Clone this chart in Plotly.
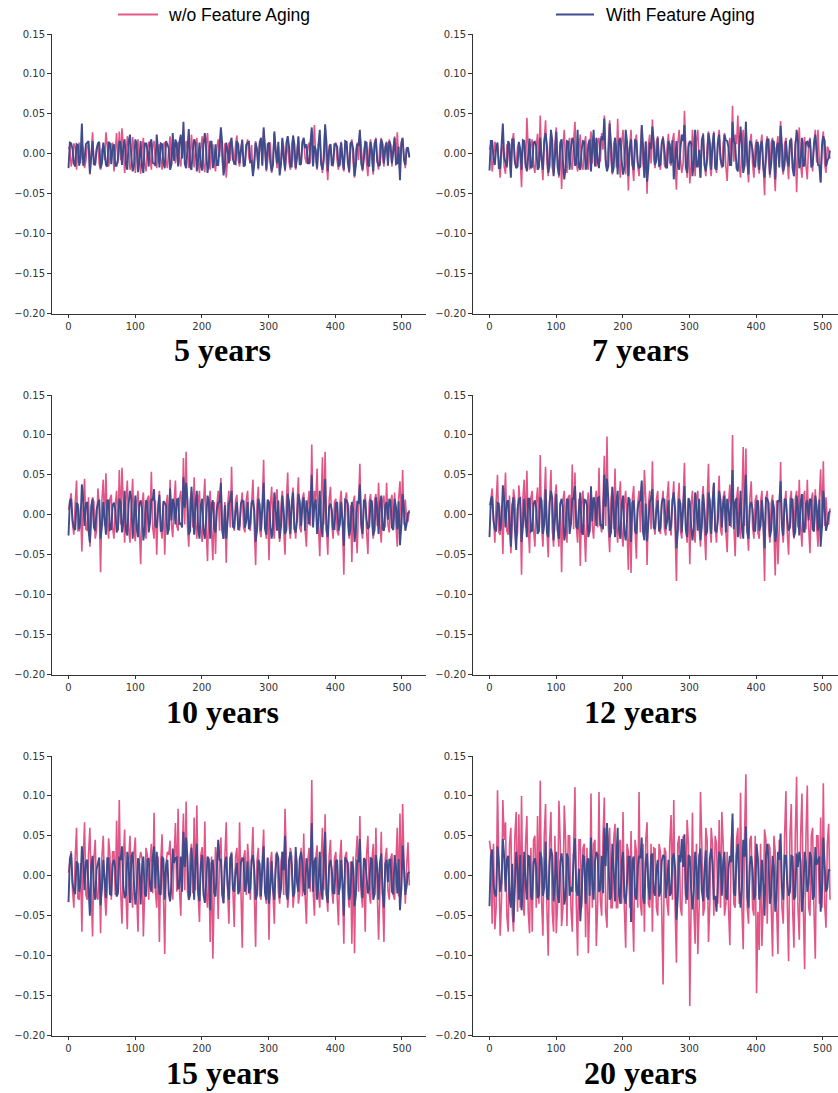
import numpy as np
import plotly.graph_objects as go

panel_titles = ["5 years", "7 years", "10 years", "12 years", "15 years", "20 years"]
series_names = ["w/o Feature Aging", "With Feature Aging"]
y_ticks = [-0.20, -0.15, -0.10, -0.05, 0.00, 0.05, 0.10, 0.15]
x_ticks = [0, 100, 200, 300, 400, 500]

pink_5 = [.006,-.016,.013,-.02,.014,.012,-.018,.01,-.026,.027,-.015,.012,-.02,.011,.027,-.016,
.012,-.022,.026,.028,.032,-.024,.022,-.02,.021,-.024,.018,-.025,.02,-.022,.015,-.02,
.016,-.018,.012,-.02,.014,-.018,.022,.02,-.012,.015,-.016,.03,.016,-.018,.024,-.017,
.02,-.024,.022,-.023,.026,-.02,.012,-.022,.018,.028,-.024,-.03,.014,.016,-.014,.023,
-.016,.018,-.015,.018,-.012,-.026,.016,-.02,.018,.03,-.022,.012,-.024,.026,-.018,-.022,
.018,-.022,.02,-.02,.021,-.02,.02,-.014,.018,-.012,.014,.03,.036,-.02,.022,-.024,
.034,-.033,.012,-.016,.014,-.02,.015,-.022,.016,-.024,.018,-.03,.014,.026,-.022,.015,
-.028,.018,-.026,.02,-.02,.02,-.016,.015,.018,-.016,.022,.027,-.024,.018,-.018,.006]
pink_5_mid = [.01,-.006,.008,.004,-.012,.006,-.009,.012,-.004,-.011,.007,-.013,.005,-.008,.01,-.005,
.013,.003,-.012,-.008,.011,-.006,.009,-.014,.004,.012,-.01,.006,-.013,.008,-.005,.011,
-.011,.007,-.006,.012,-.009,.005,-.013,.01,.004,-.008,.014,-.006,.009,-.012,.003,.011,
-.01,.006,-.014,.012,-.005,.009,-.011,.007,-.004,-.01,.013,-.006,-.009,.005,.012,-.008,
.007,-.012,.01,-.005,.011,-.007,.004,.012,-.013,.006,-.009,.014,-.006,.005,.01,-.012,
.009,-.004,-.011,.012,-.008,.006,-.01,.013,-.005,.008,-.012,.007,-.009,.011,-.006,.004,
-.012,.01,-.005,.011,-.009,.006,-.013,.008,-.004,.012,-.011,.005,-.008,.01,.004,-.012,
.006,-.009,.013,-.007,.011,-.005,.01,-.012,.004,.008,-.01,-.006,.012,-.004,.007,-.005]
blue_5 = [-.018,.013,-.012,.012,-.015,.038,-.008,.014,-.025,.016,-.012,.013,-.018,.014,-.014,.015,
-.013,.012,-.015,.016,-.014,.018,-.02,.024,-.022,.018,-.023,.016,-.024,.013,-.016,.018,
-.012,.024,-.017,.012,-.018,.01,-.02,.026,.018,-.016,.024,.04,-.018,.031,-.02,.018,
-.022,.014,-.021,.026,-.024,.015,-.018,.012,-.014,.033,-.027,.014,-.012,.02,-.012,.016,
-.012,.017,-.014,.014,-.01,-.028,.014,-.018,.02,.033,-.02,.014,-.022,.028,-.012,-.027,
.02,-.02,.022,-.016,.023,-.018,.022,-.012,.02,.012,-.012,.033,.01,-.018,.03,-.02,
.037,-.022,.012,-.012,.012,-.016,.014,-.02,.015,-.022,.015,-.028,.012,.03,-.02,.015,
-.014,.015,-.022,.018,-.015,.018,-.012,.014,.016,-.012,.02,-.012,-.033,.02,-.014,.008]
blue_5_mid = [.014,.006,-.016,.011,-.004,-.015,.012,.016,-.009,-.014,.005,.015,-.012,.003,-.016,.013,
.008,-.015,-.006,.014,.01,-.013,.015,-.004,-.014,.012,-.008,-.016,.013,.005,.014,-.011,
-.015,.004,.013,-.012,.016,.007,-.014,-.009,.012,.015,-.006,-.013,.011,-.016,.004,.014,
-.008,-.015,.013,.006,-.012,.015,-.01,-.014,.009,.013,-.015,.005,.014,-.007,-.013,.012,
.004,-.016,.011,.015,-.009,-.013,.006,.014,-.015,.008,.012,-.011,-.014,.004,.015,-.012,
-.006,.013,.009,-.016,.012,-.005,-.014,.015,.007,-.012,.014,-.016,.005,.011,-.013,-.008,
.014,.004,-.015,.012,.009,-.014,-.005,.016,-.011,.013,.006,-.015,.01,-.012,-.007,.014,
-.016,.005,.013,-.01,-.014,.012,.007,-.015,.011,.004,-.013,.009,.014,-.008,.006,-.004]

pink_7 = [.005,-.022,.015,.01,-.03,.01,-.025,.012,-.028,.026,-.016,.014,-.042,.017,.045,-.02,
.018,-.024,.025,.048,-.033,.042,-.028,.024,-.026,.033,-.03,-.044,.03,-.024,.02,-.02,
.04,-.022,.024,-.02,.022,-.02,.028,.02,-.016,.02,.026,.048,-.02,.042,-.026,.02,
.044,-.03,.03,-.026,-.046,.03,-.034,.024,-.028,.034,-.03,-.05,.024,.043,-.018,.022,
-.02,.022,-.018,.025,-.015,.026,-.045,.03,-.024,.054,-.03,-.037,.03,-.028,.03,-.03,
.026,-.028,.028,-.028,.028,-.024,.03,-.018,.026,-.034,.02,.06,.024,.048,-.03,.03,
.04,-.036,.025,-.03,.018,-.025,.024,-.052,.022,-.03,.02,-.047,.022,.041,-.026,.02,
-.032,.02,-.028,-.048,.033,-.03,.021,-.032,.02,-.022,.03,.03,-.036,.028,-.024,.005]
pink_7_mid = [.012,-.008,.009,-.014,.006,-.016,.011,-.01,.015,-.012,.008,-.006,.014,-.018,.007,.012,
-.015,.009,-.012,-.008,.016,-.011,.007,-.017,.013,-.006,.011,.009,-.016,.012,-.013,.015,
-.01,.007,-.014,.012,-.016,.009,-.012,-.006,.017,-.01,.005,-.014,.015,-.008,.012,-.017,
-.012,.014,-.008,.016,.009,-.013,.012,-.015,.007,-.012,.016,.011,-.012,-.007,.015,-.01,
.013,-.014,.008,-.011,.016,-.013,.012,-.007,-.012,.009,.014,-.015,.006,.016,-.012,.011,
-.014,.009,-.013,.012,-.01,.015,-.008,.013,-.016,.007,-.012,-.01,.012,-.014,.008,-.016,
-.01,.013,-.012,.009,-.014,.011,-.016,.012,-.009,.014,-.013,.008,-.011,-.015,.012,-.009,
.013,-.012,.016,.009,-.013,.01,-.015,.012,-.007,.014,-.011,-.01,.013,-.012,.009,-.006]
blue_7 = [-.021,.016,-.014,.014,-.018,.038,-.01,.016,-.03,.018,-.018,.015,-.02,.016,-.022,.019,
-.016,.015,-.02,.02,-.02,.026,-.024,.03,-.028,.028,-.027,.018,-.032,.016,-.02,.02,
-.015,.03,-.02,.016,-.02,.012,-.022,.03,.02,-.018,.022,.044,-.022,.038,-.024,.02,
-.026,.02,-.026,.03,-.028,.018,-.02,.016,-.018,.036,-.03,-.035,.014,.034,-.014,.02,
-.014,.02,-.016,.016,-.012,-.032,.016,-.02,.024,.036,-.024,.016,-.028,.03,-.016,-.03,
.024,-.022,.026,-.02,.026,-.02,.024,-.014,.024,.016,-.014,.04,.012,-.022,.034,-.024,
.04,-.026,.014,-.014,.014,-.02,.016,-.03,.018,-.026,.016,-.032,.014,.035,-.022,.016,
-.016,.018,-.028,.03,-.018,.02,-.014,.015,.018,-.014,.024,-.014,-.036,.022,-.016,-.005]
blue_7_mid = [.016,-.006,.008,-.018,.014,-.005,-.017,.012,.018,-.01,-.016,.006,.017,-.013,.004,-.018,
.014,.009,-.017,-.007,.016,.011,-.015,.017,-.005,-.016,.014,-.009,-.018,.015,.006,.016,
-.012,-.017,.005,.015,-.014,.018,.008,-.016,-.01,.014,.017,-.007,-.015,.012,-.018,.005,
.016,-.009,-.017,.015,.007,-.014,.017,-.011,-.016,.01,.015,-.017,.006,.016,-.008,-.015,
.014,.005,-.018,.012,.017,-.01,-.015,.007,.016,-.017,.009,.014,-.012,-.016,.005,.017,
-.014,-.007,.015,.01,-.018,.014,-.006,-.016,.017,.008,-.014,.016,-.018,.006,.012,-.015,
-.009,.016,.005,-.017,.014,.01,-.016,-.006,.018,-.012,.015,.007,-.017,.011,-.014,-.008,
.016,-.018,.006,.015,-.011,-.016,.014,.008,-.017,.012,.005,-.015,.01,.016,-.009,.004]

pink_10 = [.006,.027,-.025,.043,-.02,-.046,.045,-.02,-.04,.022,-.03,.033,-.072,.044,.052,-.03,
.025,-.03,.03,.056,.059,-.035,.043,-.035,.045,-.033,.03,-.062,.028,-.03,.024,.054,
-.03,-.05,.03,-.03,-.05,.025,.044,-.028,.043,-.02,.03,.071,.079,-.04,.03,.047,
-.03,.03,-.034,.045,-.058,.03,-.057,-.049,.03,.046,-.03,-.06,.03,.06,-.02,.025,
-.02,.028,-.022,.03,-.02,.044,-.063,.035,-.028,.069,-.03,-.057,.035,-.03,.032,-.034,
.03,-.05,.053,-.03,.034,-.03,.047,-.022,.028,-.04,.03,.088,.03,.058,-.052,.072,
.079,-.05,.035,-.03,.02,-.026,.03,-.075,.028,-.03,-.059,.024,-.048,.064,-.03,.026,
-.049,.026,-.03,.026,.04,-.035,.024,.04,-.022,.025,.028,-.04,.042,.056,.019,-.008]
pink_10_mid = [.016,-.012,.014,-.02,.01,.012,-.018,.022,-.012,.016,-.02,.009,.018,-.014,-.01,.02,
-.016,.013,-.02,-.012,.014,.018,-.016,.012,-.02,.016,-.018,.012,-.014,.02,-.01,-.016,
.018,.012,-.016,.014,.01,-.02,-.012,.016,-.014,.02,-.01,-.012,-.014,.018,-.016,-.012,
.016,-.02,.014,-.016,.012,-.018,.016,.012,-.02,-.014,.016,.01,-.016,-.012,.018,-.014,
.012,-.016,.018,-.01,.014,-.016,.012,-.018,.014,-.012,.016,.01,-.016,.02,-.014,.012,
-.018,.016,-.012,.018,-.014,.012,-.016,.02,-.018,.012,-.014,-.012,.016,-.014,.012,-.012,
-.016,.018,-.012,.016,-.02,.014,-.012,.018,-.014,.012,.016,-.018,.014,-.016,.012,-.02,
.016,-.012,.018,-.014,-.012,.018,-.016,-.012,.016,-.018,-.012,.02,-.014,-.012,-.008,.006]
blue_10 = [-.026,.02,-.016,.015,-.018,.038,-.014,.016,-.035,.02,-.02,.014,-.03,.016,-.025,.018,
-.018,.015,-.022,.02,-.022,.03,-.026,.03,-.03,.024,-.028,.018,-.032,.018,-.022,.02,
.032,-.016,.025,-.02,.015,-.025,.033,.02,-.012,.02,-.01,.047,.04,-.025,.035,-.025,
.03,-.03,.02,-.03,.024,-.03,.018,-.022,.015,.04,-.03,-.03,.014,.03,-.016,.016,
-.014,.018,-.016,.016,-.012,.018,-.034,.02,-.02,.04,-.025,.016,-.03,.028,-.02,-.03,
.024,-.024,.026,-.024,.028,-.022,.026,-.014,.022,.018,-.012,.05,.014,-.024,.03,-.028,
.045,-.028,.014,-.018,.014,-.02,.016,-.039,.018,-.026,.016,-.034,.016,.038,-.024,.018,
-.018,.018,-.026,.022,-.024,.024,-.02,.016,.02,-.016,.02,-.018,-.038,.026,-.02,.002]
blue_10_mid = [.017,-.007,-.019,.013,-.006,.018,.014,-.02,.011,-.016,.006,.019,-.014,-.005,.018,-.019,
.012,.007,-.018,.016,-.011,-.02,.014,.019,-.006,-.017,.013,.008,-.019,.016,-.01,.018,
-.014,.006,-.02,.017,.011,-.018,-.007,.014,.019,-.012,-.016,.009,.018,-.02,.006,.015,
-.017,.012,-.019,-.006,.017,.013,-.018,.007,.016,-.02,.012,-.009,.018,-.015,.005,-.019,
.014,.017,-.008,-.018,.016,.006,-.02,.013,.008,-.017,.019,-.012,-.015,.007,.018,-.014,
.005,-.019,.016,.011,-.018,-.007,.017,.014,-.02,.006,.013,-.016,.019,-.008,-.014,.017,
-.019,.01,.006,-.018,.016,-.012,-.007,.019,.014,-.017,.008,-.02,.015,-.011,.018,-.006,
-.015,.017,-.019,.008,.014,-.018,.012,-.006,.016,-.019,.01,.017,-.014,.006,-.011,.004]

pink_12 = [.012,.033,-.035,.05,-.025,-.049,.053,-.025,-.048,.032,-.03,.037,-.075,.044,.055,-.048,
.03,-.04,.034,.075,-.04,.06,-.053,.056,-.04,.038,-.04,-.072,.03,-.035,.025,.063,
.053,-.035,-.064,.03,-.059,.028,.036,-.03,.03,.059,-.022,.074,.098,-.047,.034,.058,
-.035,.042,-.04,.03,-.069,-.073,.036,-.055,.03,.04,.056,-.063,.03,.067,-.025,.03,
-.024,.03,-.026,.042,-.026,.042,-.083,.04,-.03,.065,-.035,-.062,.03,-.035,.03,-.04,
.036,-.057,.064,-.035,.04,-.035,.049,-.026,.03,-.047,.038,.10,-.052,.035,-.03,.085,
.083,-.045,.042,-.03,.025,-.03,.03,-.083,.03,-.035,.025,-.076,-.062,.066,-.035,.03,
-.05,.03,-.03,.03,.044,-.04,.03,.044,-.048,.028,.032,-.04,.057,.067,.022,-.012]
pink_12_mid = [.018,-.014,.016,-.022,.012,.014,-.02,.024,-.014,.018,-.022,.01,.02,-.016,-.012,.022,
-.018,.015,-.022,-.014,.016,-.02,.014,-.018,.022,-.02,.014,.018,-.016,.022,-.012,-.018,
-.014,.02,.014,-.018,.012,-.022,-.014,.018,-.016,-.012,.02,-.014,-.016,.02,-.018,-.014,
.018,-.022,.016,-.018,.014,.02,-.018,.014,-.022,-.016,.02,.012,-.018,-.014,.02,-.016,
.014,-.018,.02,-.012,.016,-.018,.014,-.02,.016,-.014,.018,.012,-.018,.022,-.016,.014,
-.02,.018,-.014,.02,-.016,.014,-.018,.022,-.02,.014,-.016,-.014,.018,-.016,.014,-.014,
-.018,.02,-.014,.018,-.022,.016,-.014,.02,-.016,.014,-.02,.018,-.016,-.018,.014,-.022,
.018,-.014,.02,-.016,-.014,.02,-.018,-.014,.018,-.02,-.014,.022,-.016,-.014,-.01,.008]
blue_12 = [-.028,.023,-.018,.015,-.02,.037,-.016,.018,-.04,.022,-.044,.02,-.034,.02,-.028,.02,
-.02,.018,-.024,.022,-.024,.032,-.028,.03,-.032,.026,-.03,.02,-.032,.02,-.024,.02,
.036,-.018,.028,-.025,.018,-.028,.035,.022,-.014,.022,-.012,.05,.045,-.028,.035,-.028,
.03,-.03,.024,-.032,.022,-.034,.018,-.024,.016,.043,-.032,-.033,.016,.032,-.018,.018,
-.016,.02,-.018,.018,-.014,.028,-.042,.02,-.022,.036,-.028,.016,-.032,.028,-.02,-.032,
.026,-.026,.028,-.024,.04,-.022,.03,-.016,.024,.02,-.014,.056,.016,-.028,.03,-.03,
.05,-.03,.016,-.02,.016,-.02,.018,-.042,.02,-.028,.018,-.034,.018,.042,-.026,.018,
-.02,.02,-.028,.024,-.026,.026,-.022,.018,.02,-.018,.024,-.02,-.04,.03,-.02,.002]
blue_12_mid = [.019,-.008,-.021,.014,-.007,.02,.016,-.022,.012,-.018,.007,.021,-.015,-.006,.02,-.021,
.014,.008,-.02,.018,-.012,-.022,.015,.021,-.007,-.019,.014,.009,-.021,.018,-.011,.02,
-.015,.007,-.022,.019,.012,-.02,-.008,.015,.021,-.014,-.018,.01,.02,-.022,.007,.016,
-.019,.014,-.021,-.007,.019,.015,-.02,.008,.018,-.022,.014,-.01,.02,-.016,.006,-.021,
.015,.019,-.009,-.02,.018,.007,-.022,.014,.009,-.019,.021,-.014,-.016,.008,.02,-.015,
.006,-.021,.018,.012,-.02,-.008,.019,.015,-.022,.007,.014,-.018,.021,-.009,-.015,.019,
-.021,.011,.007,-.02,.018,-.014,-.008,.021,.015,-.019,.009,-.022,.016,-.012,.02,-.007,
-.016,.019,-.021,.009,.015,-.02,.014,-.007,.018,-.021,.011,.019,-.015,.007,-.012,.005]

pink_15 = [.004,.031,-.04,.06,-.03,-.07,.067,-.03,.06,-.076,.045,-.03,-.072,.05,-.05,.047,
-.03,.03,.069,.095,-.06,.058,-.067,.05,-.04,.048,-.07,.03,-.076,.035,-.03,.04,
.079,-.04,-.083,.052,-.098,.03,.044,-.03,.066,.084,-.05,.078,.093,-.03,.04,.073,
.088,-.058,.036,.068,-.04,-.083,-.104,.036,-.054,.048,-.035,.067,-.06,.03,-.064,.035,
.067,-.09,.032,.04,-.03,.061,-.089,.035,-.03,.058,-.035,-.08,.03,-.06,.03,-.035,
.03,.084,-.04,.035,-.04,.03,-.035,.035,.053,-.06,.035,.12,-.05,.038,-.04,.06,
.077,-.045,.045,-.035,.03,-.062,.045,-.085,.03,-.04,-.085,-.097,.05,.075,-.04,-.07,
.05,-.035,.04,.06,-.08,.055,-.083,.035,-.03,.028,-.03,.06,.078,.09,-.035,.042]
pink_15_mid = [.02,-.018,.022,-.028,.016,.02,-.024,.028,-.018,.022,-.026,.014,.024,-.02,-.016,.026,
.03,-.024,-.02,-.018,.02,-.024,.018,-.022,.028,-.024,.018,.022,-.02,.026,.016,-.022,
-.018,.024,.018,-.022,.016,.026,-.018,.022,-.02,-.016,.024,-.018,-.02,.026,-.022,-.018,
-.022,.026,-.02,-.022,.018,.024,-.022,.018,.026,-.02,.024,-.016,.022,-.018,.024,-.02,
-.018,.022,-.024,.016,.02,-.022,.018,-.024,.02,-.018,.022,.016,-.022,.026,-.02,.018,
-.024,.022,-.018,.024,-.02,.018,-.022,-.026,-.024,.018,-.02,-.018,.022,-.02,.018,-.018,
-.022,.024,-.018,.022,-.026,.02,-.018,.024,-.02,.018,.024,.022,-.02,-.022,.018,.026,
-.022,.018,-.024,-.02,-.018,-.024,.022,-.018,.022,-.024,.018,-.026,-.02,.018,.012,-.012]
blue_15 = [-.033,.028,-.018,.018,-.02,.037,-.018,.02,-.05,.025,-.03,.016,-.037,.02,-.028,.022,
-.024,.02,-.026,.024,.037,-.028,.03,-.034,.03,-.036,.022,-.036,.024,-.026,.022,-.02,
.037,.03,-.022,.024,-.03,.02,-.032,.034,.022,-.016,.024,.055,.048,-.03,.035,-.03,
.04,-.032,.026,-.034,.024,-.043,.02,-.026,.045,.02,-.034,.024,-.03,.028,-.02,.016,
-.018,.022,-.02,.018,-.016,.026,-.03,.02,-.026,.037,-.03,-.035,.018,-.03,.028,-.028,
.03,.05,-.03,.03,-.026,.036,-.02,.03,-.018,.022,-.016,.066,.018,-.03,.03,-.03,
.055,-.034,.02,-.022,.018,-.024,.02,-.05,.02,-.03,.018,-.038,.02,.046,-.028,.02,
-.022,.022,-.03,.026,-.03,.028,-.04,.02,.02,-.02,.026,-.022,-.043,.038,-.024,.003]
blue_15_mid = [.021,-.009,-.023,.015,-.008,.022,.017,-.024,.013,-.02,.008,.023,-.016,-.007,.022,-.023,
.015,.009,-.022,.02,-.013,-.024,.016,.023,-.008,-.021,.015,.01,-.023,.02,-.012,.022,
-.016,.008,-.024,.021,.013,-.022,-.009,.016,.023,-.015,-.02,.011,.022,-.024,.008,.017,
-.021,.015,-.023,-.008,.021,.016,-.022,.009,.02,-.024,.015,-.011,.022,-.017,.007,-.023,
.016,.021,-.01,-.022,.02,.008,-.024,.015,.01,-.021,.023,-.015,-.017,.009,.022,-.016,
.007,-.023,.02,.013,-.022,-.009,.021,.016,-.024,.008,.015,-.02,.023,-.01,-.016,.021,
-.023,.012,.008,-.022,.02,-.015,-.009,.023,.016,-.021,.01,-.024,.017,-.013,.022,-.008,
-.017,.021,-.023,.01,.016,-.022,.015,-.008,.02,-.023,.012,.021,-.016,.008,-.013,.005]

pink_20 = [.044,-.06,-.067,.107,-.075,.095,.067,-.07,.06,-.07,.08,.077,.10,-.05,.075,-.072,
-.07,.05,.075,.119,-.075,.09,-.10,.08,-.07,-.072,.094,-.063,.088,-.063,.05,-.07,
.111,-.10,.045,.035,-.077,-.097,.103,.04,-.088,.105,-.05,.098,-.065,.06,-.04,.065,
-.04,.045,.08,-.09,.03,.056,-.095,.03,.105,-.05,-.07,.067,-.04,-.07,.034,-.05,
.03,-.136,.03,-.05,.076,.095,-.109,.05,-.05,.04,.07,-.163,.079,-.085,-.098,.105,
-.05,.06,-.083,.06,-.05,.04,.07,.08,-.05,.03,-.087,.07,-.04,.06,.104,-.092,
.127,-.06,.05,-.05,-.147,-.093,-.088,.058,-.06,.035,-.101,.03,-.098,.035,-.06,.106,
-.107,.09,-.09,.124,-.08,.103,-.117,.113,-.05,.06,-.104,.05,.073,.116,-.065,.065]
pink_20_mid = [.03,.04,-.04,.035,-.03,.045,-.05,.04,-.045,.05,-.045,-.04,-.035,.04,-.045,.035,
.045,-.04,-.035,-.03,.05,-.04,.04,-.045,.05,-.035,.04,-.04,.045,.05,-.04,.035,
-.035,.045,-.04,.04,.035,-.035,-.04,.045,-.035,-.03,.05,-.045,.04,-.04,.045,-.04,
.04,-.035,-.04,.04,-.04,-.035,.045,-.04,-.035,.04,.045,-.035,.04,.035,-.04,.04,
-.045,.035,-.035,.04,-.03,-.04,.04,-.04,.05,-.035,.04,-.035,-.04,.04,-.04,.04,
-.04,.045,-.035,.04,.05,-.035,-.04,.04,-.035,-.04,.04,-.035,.045,-.035,-.04,.05,
-.04,.045,-.04,.05,-.045,.04,-.035,.045,.04,-.04,.05,-.04,.045,-.04,.05,-.035,
.05,-.04,.05,-.04,.05,-.04,.05,-.04,.05,-.045,.05,-.035,-.04,-.035,.04,-.03]
blue_20 = [-.038,.033,-.022,.037,-.02,.046,-.02,.025,-.04,-.058,.03,-.03,-.043,.03,-.03,.024,
-.03,.022,-.028,.03,-.025,.043,-.03,.034,-.032,.03,-.034,.028,-.036,.028,-.025,-.02,
.047,-.025,-.057,.025,-.035,.022,.048,-.03,.03,-.02,.025,.06,.066,-.03,.04,-.032,
.06,-.035,.03,-.035,.024,-.058,.024,-.03,.025,.048,-.035,.028,-.03,.028,-.025,.02,
-.02,.026,-.028,.02,-.022,.028,-.055,.026,.046,.052,-.03,.024,-.042,.03,-.03,.034,
-.032,.032,-.03,.034,-.03,-.045,.03,-.025,.03,-.03,.025,.078,-.025,.04,-.04,.045,
.062,-.04,.025,-.03,.04,-.03,.02,-.05,.04,-.035,.025,-.045,.03,.053,-.03,.025,
-.025,.025,-.03,.028,.03,-.045,.03,-.02,.03,-.03,.036,.02,-.045,.048,-.02,.008]
blue_20_mid = [.024,-.011,-.026,.017,-.009,.025,.02,-.027,.015,-.022,.009,.026,-.018,-.008,.025,-.026,
.017,.01,-.025,.022,-.015,-.027,.018,.026,-.009,-.024,.017,.011,-.026,.022,-.014,.025,
-.018,.009,-.027,.024,.015,-.025,-.01,.018,.026,-.017,-.022,.012,.025,-.027,.009,.02,
-.024,.017,-.026,-.009,.024,.018,-.025,.01,.022,-.027,.017,-.012,.025,-.02,.008,-.026,
.018,.024,-.011,-.025,.022,.009,-.027,.017,.011,-.024,.026,-.017,-.02,.01,.025,-.018,
.008,-.026,.022,.015,-.025,-.01,.024,.018,-.027,.009,.017,-.022,.026,-.011,-.018,.024,
-.026,.014,.009,-.025,.022,-.017,-.01,.026,.018,-.024,.011,-.027,.02,-.015,.025,-.009,
-.02,.024,-.026,.011,.018,-.025,.017,-.009,.022,-.026,.014,.024,-.018,.009,-.015,.006]

pink_lists = [(pink_5, pink_5_mid), (pink_7, pink_7_mid), (pink_10, pink_10_mid),
              (pink_12, pink_12_mid), (pink_15, pink_15_mid), (pink_20, pink_20_mid)]
blue_lists = [(blue_5, blue_5_mid), (blue_7, blue_7_mid), (blue_10, blue_10_mid),
              (blue_12, blue_12_mid), (blue_15, blue_15_mid), (blue_20, blue_20_mid)]


def weave(main, mid):
    out = []
    for a, b in zip(main, mid):
        out += [a, b]
    return out


W, H = 838, 1093
PINK = "rgba(222,66,122,0.9)"
BLUE = "#404B8C"
col_px = [(51.5, 426.0), (472.5, 838.0)]
row_px = [(34.0, 313.5), (395.0, 674.5), (756.0, 1035.5)]
title_y_px = [350, 712, 1073]
title_x_px = [223, 640.5]
x_ranges = [[-25.5, 536.0], [-25.5, 523.0]]

fig = go.Figure()
layout = dict(
    width=W, height=H, margin=dict(l=0, r=0, t=0, b=0, autoexpand=False),
    paper_bgcolor="white", plot_bgcolor="white", showlegend=False,
    annotations=[], shapes=[],
)
for i, title in enumerate(panel_titles):
    r, c = divmod(i, 2)
    suffix = "" if i == 0 else str(i + 1)
    x0, x1 = col_px[c]
    y0, y1 = row_px[r]
    layout["xaxis" + suffix] = dict(
        domain=[x0 / W, x1 / W], range=x_ranges[c], anchor="y" + suffix, automargin=False,
        tickvals=x_ticks, ticks="outside", ticklen=3.5, tickwidth=0.8, tickcolor="#333",
        showgrid=False, zeroline=False, showline=True, linecolor="#333", linewidth=1,
        tickfont=dict(family="DejaVu Sans", size=10, color="#333"),
    )
    layout["yaxis" + suffix] = dict(
        domain=[1 - y1 / H, 1 - y0 / H], range=[-0.20, 0.15], anchor="x" + suffix, automargin=False,
        tickvals=y_ticks, tickformat=".2f", ticks="outside", ticklen=3.5, tickwidth=0.8, tickcolor="#333",
        showgrid=False, zeroline=False, showline=True, linecolor="#333", linewidth=1,
        tickfont=dict(family="DejaVu Sans", size=10, color="#333"),
    )
    for pair, color, width, name in ((pink_lists[i], PINK, 1.6, series_names[0]),
                                     (blue_lists[i], BLUE, 1.9, series_names[1])):
        values = weave(*pair)
        fig.add_trace(go.Scatter(
            x=np.linspace(0, 511, len(values)), y=values, mode="lines", name=name,
            xaxis="x" + suffix, yaxis="y" + suffix, line=dict(color=color, width=width),
        ))
    layout["annotations"].append(dict(
        text="<b>%s</b>" % title, xref="paper", yref="paper", x=title_x_px[c] / W, y=1 - title_y_px[r] / H,
        showarrow=False, xanchor="center", yanchor="middle",
        font=dict(family="Liberation Serif", size=32, color="black"),
    ))

for name, lx0, lx1, tx, color in ((series_names[0], 118, 158, 166, "#E8578A"), (series_names[1], 556, 594, 604, BLUE)):
    layout["shapes"].append(dict(type="line", xref="paper", yref="paper", x0=lx0 / W, x1=lx1 / W,
                                 y0=1 - 14.5 / H, y1=1 - 14.5 / H, line=dict(color=color, width=2)))
    layout["annotations"].append(dict(
        text=name, xref="paper", yref="paper", x=tx / W, y=1 - 15 / H, showarrow=False,
        xanchor="left", yanchor="middle", font=dict(family="Liberation Sans", size=17.5, color="black"),
    ))

fig.update_layout(**layout)
fig.write_html("out.html", config={"displayModeBar": False},
               post_script="document.body.style.margin='0';document.body.style.overflow='hidden';")
